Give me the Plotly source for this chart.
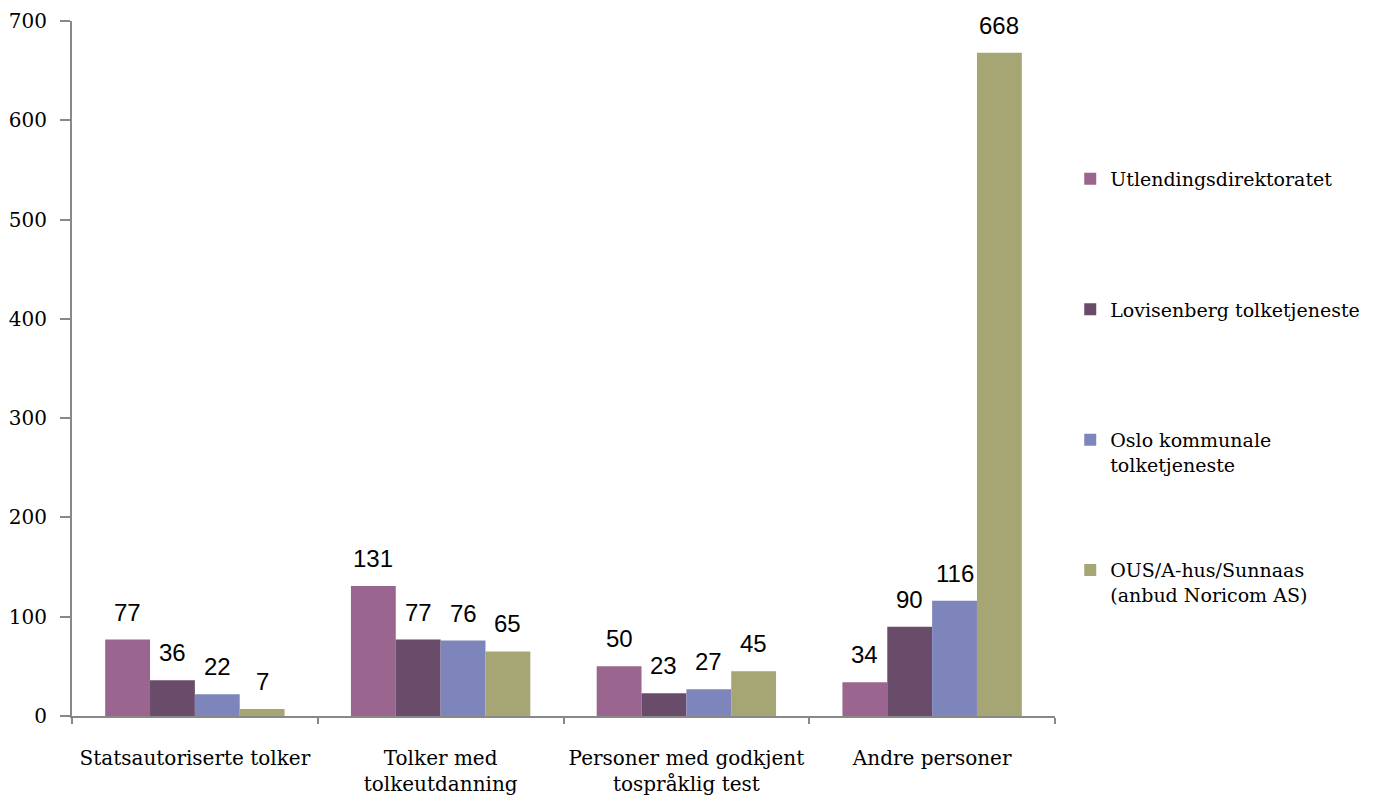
import plotly.graph_objects as go

categories = ["Statsautoriserte tolker", "Tolker med<br>tolkeutdanning",
              "Personer med godkjent<br>tospråklig test", "Andre personer"]
series_names = ["Utlendingsdirektoratet<br> ", "Lovisenberg tolketjeneste<br> ",
                "Oslo kommunale<br>tolketjeneste", "OUS/A-hus/Sunnaas<br>(anbud Noricom AS)"]
udi = [77, 131, 50, 34]
lovisenberg = [36, 77, 23, 90]
oslo = [22, 76, 27, 116]
ous = [7, 65, 45, 668]
values = [udi, lovisenberg, oslo, ous]
colors = ["#9a6690", "#694b6a", "#7e85ba", "#a6a574"]

BARGAP = 0.27
plot_w = 1377 - 72 - 322
bar_px = plot_w / len(categories) * (1 - BARGAP) / len(values)

fig = go.Figure()
for i, (name, vals, col) in enumerate(zip(series_names, values, colors)):
    fig.add_trace(go.Bar(
        x=categories, y=vals, name=name, legendgroup=f"g{i}",
        marker=dict(color=col, line=dict(width=0)),
    ))
    for c, v in zip(categories, vals):
        fig.add_annotation(x=c, y=v, text=str(v), showarrow=False,
                           xshift=(i - 1.5) * bar_px, yshift=12, yanchor="bottom",
                           font=dict(family="Liberation Sans", size=24, color="#000"))

fig.update_layout(
    width=1377, height=796,
    margin=dict(l=72, r=322, t=21, b=80),
    plot_bgcolor="white", paper_bgcolor="white",
    barmode="group", bargap=BARGAP, bargroupgap=0,
    font=dict(family="DejaVu Serif", size=20, color="#000"),
    showlegend=True,
    legend=dict(x=1.0155, y=0.80, xanchor="left", yanchor="top",
                tracegroupgap=78, traceorder="grouped", valign="top",
                font=dict(family="DejaVu Serif", size=19), itemwidth=30),
    xaxis=dict(showline=True, linecolor="#888", linewidth=2, ticks="outside",
               tickson="boundaries", tickcolor="#888", ticklen=6, tickwidth=2,
               showgrid=False, automargin=False, ticklabelstandoff=23),
    yaxis=dict(range=[0, 700], dtick=100, showline=True, linecolor="#888",
               linewidth=2, ticks="outside", tickcolor="#888", ticklen=10,
               tickwidth=2, showgrid=False, zeroline=False, ticklabelstandoff=9,
               automargin=False),
)
fig.write_html("out.html")
